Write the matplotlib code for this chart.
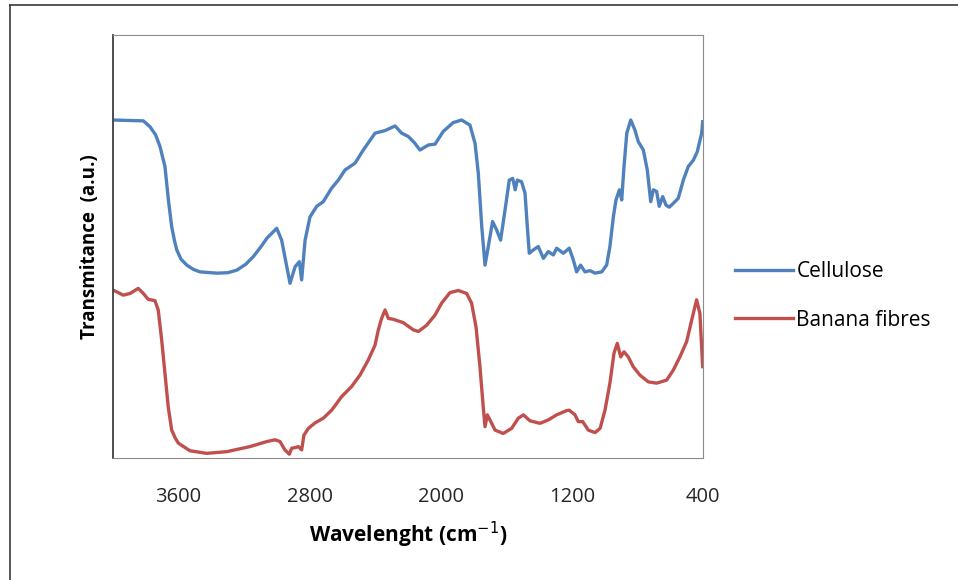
import matplotlib.pyplot as plt
from matplotlib.lines import Line2D

# wavenumber (cm-1) and transmittance (a.u., 0-100 of plot height)
cell_wn = [4000, 3815, 3774, 3740, 3713, 3683, 3662, 3642, 3625, 3611, 3585, 3550, 3510,
           3469, 3367, 3300, 3245, 3190, 3144, 3100, 3060, 3001, 2971, 2920, 2889, 2863,
           2849, 2828, 2798, 2757, 2717, 2666, 2625, 2584, 2523, 2473, 2401, 2340, 2279,
           2239, 2198, 2160, 2127, 2076, 2035, 1985, 1924, 1873, 1822, 1791, 1771, 1750,
           1730, 1710, 1684, 1659, 1635, 1608, 1582, 1561, 1546, 1533, 1507, 1486, 1472,
           1460, 1435, 1405, 1374, 1344, 1313, 1293, 1252, 1216, 1191, 1171, 1147, 1120,
           1090, 1059, 1018, 988, 968, 947, 931, 910, 896, 882, 865, 841, 815, 795, 764,
           740, 719, 703, 683, 667, 646, 626, 606, 581, 551, 520, 490, 459, 435, 408, 402]
cell_t = [79.9, 79.7, 78.3, 76.4, 73.6, 68.9, 61.0, 54.7, 51.4, 49.2, 47.0, 45.6, 44.6,
          44.0, 43.7, 43.8, 44.4, 45.8, 47.6, 49.8, 52.0, 54.3, 51.5, 41.3, 45.2, 46.4,
          42.1, 51.5, 57.0, 59.5, 60.6, 63.8, 65.7, 68.1, 69.7, 72.8, 76.8, 77.4, 78.5,
          76.8, 76.0, 74.5, 72.8, 74.0, 74.2, 77.2, 79.3, 79.9, 78.7, 74.4, 67.3, 54.7,
          45.6, 50.0, 55.9, 53.9, 51.5, 58.6, 65.7, 66.1, 63.4, 65.7, 65.3, 62.6, 54.7,
          48.4, 49.2, 50.0, 47.2, 48.8, 48.0, 49.6, 48.4, 49.6, 46.8, 44.0, 45.6, 44.0,
          44.3, 43.7, 44.0, 45.6, 50.0, 57.0, 61.0, 63.4, 61.0, 68.9, 76.8, 79.9, 77.5,
          74.8, 72.8, 68.1, 60.6, 63.4, 63.0, 59.5, 61.8, 59.8, 59.3, 60.2, 61.4, 65.7,
          68.9, 70.4, 72.4, 76.8, 79.5]

ban_wn = [4000, 3937, 3896, 3846, 3815, 3785, 3744, 3724, 3703, 3683, 3663, 3642, 3620,
          3601, 3530, 3428, 3306, 3164, 3060, 3012, 2981, 2951, 2924, 2910, 2883, 2869,
          2849, 2835, 2808, 2767, 2717, 2666, 2605, 2544, 2493, 2442, 2401, 2381, 2361,
          2340, 2320, 2290, 2229, 2168, 2137, 2086, 2035, 1995, 1944, 1893, 1842, 1812,
          1785, 1761, 1741, 1730, 1716, 1700, 1669, 1619, 1568, 1527, 1496, 1456, 1395,
          1344, 1293, 1232, 1216, 1181, 1161, 1134, 1100, 1059, 1028, 998, 968, 943, 923,
          902, 882, 856, 826, 785, 734, 683, 622, 581, 541, 500, 469, 439, 419, 402]
ban_t = [39.7, 38.5, 38.9, 40.1, 38.9, 37.5, 37.2, 35.0, 27.9, 20.0, 12.1, 6.6, 4.7,
         3.5, 1.7, 1.1, 1.5, 2.7, 3.9, 4.3, 3.9, 1.9, 0.9, 2.3, 2.5, 2.7,
         1.9, 5.4, 7.0, 8.3, 9.4, 11.3, 14.5, 16.9, 19.6, 23.2, 26.7, 30.3, 33.0,
         35.0, 33.0, 32.8, 32.0, 30.3, 29.9, 31.4, 33.8, 36.6, 39.1, 39.6, 38.9, 36.6,
         31.0, 21.6, 12.1, 7.4, 10.2, 9.0, 6.6, 5.8, 7.0, 9.4, 10.2, 8.8, 8.2,
         9.0, 10.2, 11.2, 11.3, 10.2, 8.6, 8.6, 6.6, 6.0, 7.0, 11.3, 17.7, 24.8, 27.1,
         23.9, 25.1, 23.9, 21.6, 19.6, 18.0, 17.7, 18.4, 20.8, 23.9, 27.5, 32.6, 37.4,
         34.2, 21.6]

xticks = [3600, 2800, 2000, 1200, 400]

fig = plt.figure(figsize=(9.58, 5.8), dpi=100)
ax = fig.add_axes([113 / 958, 122 / 580, 590 / 958, 423 / 580])

ax.plot(cell_wn, cell_t, color='#4F81BD', lw=2.4, label='Cellulose',
        solid_joinstyle='round')
ax.plot(ban_wn, ban_t, color='#C0504D', lw=2.4, label='Banana fibres',
        solid_joinstyle='round')

ax.set_xlim(4000, 400)
ax.set_ylim(0, 100)
ax.set_xticks(xticks)
ax.set_xticklabels([str(t) for t in xticks], fontsize=14.5, color='#262626', family='Open Sans')
ax.set_yticks([])
ax.tick_params(axis='x', length=0, pad=21)

for s in ['top', 'right', 'bottom']:
    ax.spines[s].set_color('#8c8c8c')
ax.spines['left'].set_color('#404040')
ax.spines['left'].set_linewidth(1.3)

ax.set_xlabel('Wavelenght (cm$^{-1}$)', fontsize=15, fontweight='bold', family='Open Sans',
              labelpad=9)
ax.set_ylabel('Transmitance  (a.u.)', fontsize=13.5, fontweight='bold', family='Open Sans',
              labelpad=9)

ax.legend(loc='center left', bbox_to_anchor=(1.054, 0.383), frameon=False,
          handlelength=2.8, labelspacing=1.3, handletextpad=0.15,
          borderaxespad=0, borderpad=0,
          prop={'family': 'Open Sans', 'size': 15})

# outer chart frame
fig.add_artist(Line2D([10 / 958, 10 / 958], [0, 1 - 5 / 580], color='#3a3a3a', lw=1.2))
fig.add_artist(Line2D([10 / 958, 1], [1 - 5 / 580, 1 - 5 / 580], color='#3a3a3a', lw=1.2))

fig.savefig('out.png', dpi=100)
